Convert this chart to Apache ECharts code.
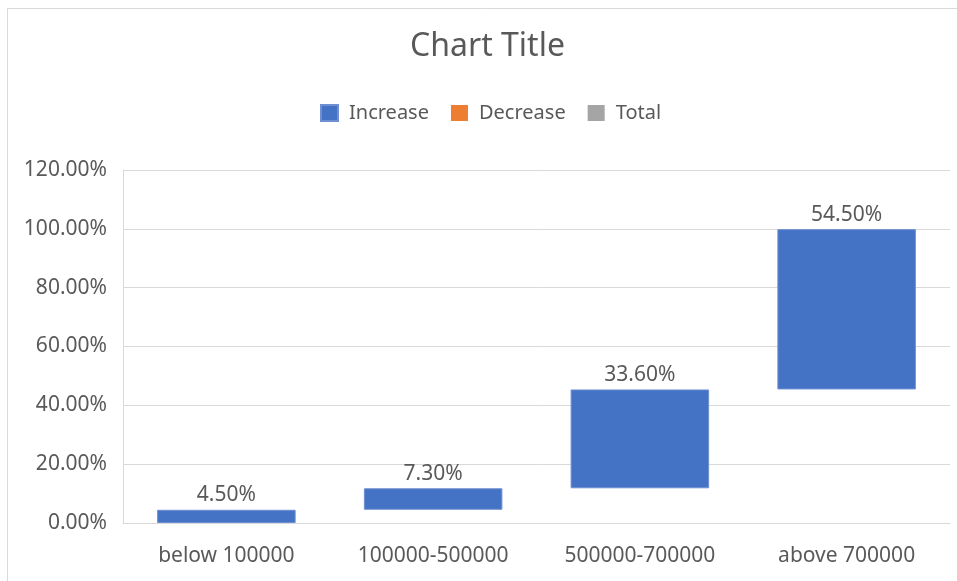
<!DOCTYPE html>
<html>
<head>
<meta charset="utf-8">
<title>Chart Title</title>
<script src="https://cdn.jsdelivr.net/npm/echarts@6/dist/echarts.min.js"></script>
<style>
  html, body { margin: 0; padding: 0; background: #ffffff; }
  #chart { width: 957px; height: 581px; }
</style>
</head>
<body>
<div id="chart"></div>
<script>
// Income bands and each band's share (percent)
const categories = ['below 100000', '100000-500000', '500000-700000', 'above 700000'];
const increaseValues = [4.5, 7.3, 33.6, 54.5];
const decreaseValues = [];
const totalValues = [];
const legendNames = ['Increase', 'Decrease', 'Total'];

// Value axis range
const yMin = 0;
const yMax = 120;
const yStep = 20;

// Invisible base of each floating bar = running sum of the previous steps
const baseValues = [];
let running = 0;
for (const v of increaseValues) {
  baseValues.push(+running.toFixed(4));
  running += v;
}

const textColor = '#595959';
const lineColor = '#D9D9D9';
const fontFamily = '"Noto Sans", "Open Sans", sans-serif';

const chart = echarts.init(document.getElementById('chart'), null, { renderer: 'canvas' });

chart.setOption({
  animation: false,
  backgroundColor: '#ffffff',
  textStyle: { fontFamily: fontFamily },
  title: {
    text: 'Chart Title',
    left: 405,
    top: 26,
    textStyle: { fontSize: 32, fontWeight: 'normal', color: textColor, fontFamily: fontFamily }
  },
  legend: {
    data: legendNames,
    top: 98,
    left: 315,
    icon: 'rect',
    itemWidth: 17,
    itemHeight: 16,
    itemGap: 22,
    textStyle: { fontSize: 20, color: textColor, fontFamily: fontFamily, padding: [0, 0, 0, 6] }
  },
  grid: { left: 123, right: 7, top: 170, bottom: 58, containLabel: false },
  xAxis: {
    type: 'category',
    data: categories,
    axisLine: { show: true, lineStyle: { color: lineColor, width: 1 } },
    axisTick: { show: false },
    axisLabel: { fontSize: 21, color: textColor, margin: 23, fontFamily: fontFamily }
  },
  yAxis: {
    type: 'value',
    min: yMin,
    max: yMax,
    interval: yStep,
    axisLine: { show: true, lineStyle: { color: lineColor, width: 1 } },
    axisTick: { show: false },
    splitLine: { show: true, lineStyle: { color: lineColor, width: 1 } },
    axisLabel: {
      fontSize: 21,
      color: textColor,
      margin: 16,
      fontFamily: fontFamily,
      formatter: (v) => v.toFixed(2) + '%'
    }
  },
  graphic: [{
    type: 'polyline',
    shape: { points: [[7.5, 581], [7.5, 8.5], [957, 8.5]] },
    style: { stroke: lineColor, lineWidth: 1, fill: null },
    silent: true
  }],
  series: [
    {
      name: 'base',
      type: 'bar',
      stack: 'waterfall',
      barCategoryGap: '33%',
      itemStyle: { color: 'transparent', borderColor: 'transparent' },
      emphasis: { disabled: true },
      data: baseValues,
      silent: true
    },
    {
      name: 'Increase',
      type: 'bar',
      stack: 'waterfall',
      itemStyle: { color: '#4472C4', borderColor: '#6F8FD2', borderWidth: 1 },
      label: {
        show: true,
        position: 'top',
        distance: 4,
        fontSize: 21,
        color: textColor,
        fontFamily: fontFamily,
        formatter: (p) => p.value.toFixed(2) + '%'
      },
      data: increaseValues
    },
    {
      name: 'Decrease',
      type: 'bar',
      stack: 'waterfall',
      itemStyle: { color: '#ED7D31' },
      data: decreaseValues
    },
    {
      name: 'Total',
      type: 'bar',
      stack: 'waterfall',
      itemStyle: { color: '#A5A5A5' },
      data: totalValues
    }
  ]
});
</script>
</body>
</html>
